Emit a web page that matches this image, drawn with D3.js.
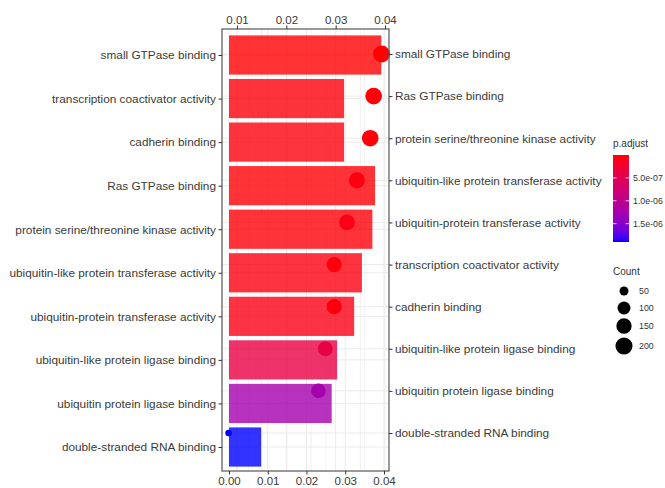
<!DOCTYPE html>
<html>
<head>
<meta charset="utf-8">
<script src="https://cdn.jsdelivr.net/npm/d3@7"></script>
<style>
  html, body { margin: 0; padding: 0; background: #fff; }
  svg { display: block; font-family: "Liberation Sans", Arial, sans-serif; }
  .axis text { fill: #3a3a3a; }
  .axis path { display: none; }
  .axis line { stroke: #333; }
</style>
</head>
<body>
<svg id="chart" width="665" height="488"></svg>
<script>
// GO molecular function terms, in the order the bars are stacked
const categories = [
  "small GTPase binding",
  "transcription coactivator activity",
  "cadherin binding",
  "Ras GTPase binding",
  "protein serine/threonine kinase activity",
  "ubiquitin-like protein transferase activity",
  "ubiquitin-protein transferase activity",
  "ubiquitin-like protein ligase binding",
  "ubiquitin protein ligase binding",
  "double-stranded RNA binding"
];
// gene ratio per term (bar length and dot position)
const geneRatio = [0.0393, 0.0297, 0.0297, 0.0377, 0.0370, 0.0343, 0.0323, 0.0279, 0.0265, 0.0083];
// number of genes per term (dot size)
const geneCount = [198, 150, 150, 190, 187, 173, 163, 141, 134, 42];
// adjusted p-value per term (colour)
const pAdjust = [1.0e-9, 3.5e-8, 4.1e-8, 2.0e-8, 2.6e-8, 4.8e-8, 7.9e-8, 3.9e-7, 1.25e-6, 1.9e-6];
// dot plot row order (by gene ratio)
const dotOrder = [
  "small GTPase binding",
  "Ras GTPase binding",
  "protein serine/threonine kinase activity",
  "ubiquitin-like protein transferase activity",
  "ubiquitin-protein transferase activity",
  "transcription coactivator activity",
  "cadherin binding",
  "ubiquitin-like protein ligase binding",
  "ubiquitin protein ligase binding",
  "double-stranded RNA binding"
];
const barTicks = [0, 0.01, 0.02, 0.03, 0.04];
const dotTicks = [0.01, 0.02, 0.03, 0.04];
const pTicks = [5e-7, 1e-6, 1.5e-6];
const pTickLabels = ["5.0e-07", "1.0e-06", "1.5e-06"];
const countBreaks = [50, 100, 150, 200];

const rows = categories.map((c, i) => ({
  term: c, ratio: geneRatio[i], count: geneCount[i], p: pAdjust[i]
}));

const svg = d3.select("#chart");
const panel = { left: 222, right: 389, top: 29, bottom: 471 };

// scales
const xBar = d3.scaleLinear().domain([0, 0.04]).range([229, 384]);
const xDot = d3.scaleLinear().domain([0.01, 0.04]).range([237, 385]);
const yBar = d3.scalePoint().domain(categories).range([55, 447]);
const yDot = d3.scalePoint().domain(dotOrder).range([54, 433]);
const barH = 0.9 * yBar.step();

const pExtent = d3.extent(pAdjust);
const color = d3.scaleLinear().domain(pExtent).range(["#ff0000", "#0000ff"])
  .interpolate(d3.interpolateLab);
const cExtent = d3.extent(geneCount);
const rMin = 3.3, rMax = 8.5;
const radius = c => rMin + (rMax - rMin) * Math.sqrt(Math.max(0, (c - cExtent[0]) / (cExtent[1] - cExtent[0])));

// grid
const grid = svg.append("g");
const minor = ticks => d3.range(ticks.length - 1).map(i => (ticks[i] + ticks[i + 1]) / 2);
minor(barTicks).concat([0.045]).forEach(v => {
  const x = xBar(v);
  if (x < panel.right) grid.append("line").attr("x1", x).attr("x2", x)
    .attr("y1", panel.top).attr("y2", panel.bottom).attr("stroke", "#f4f4f4");
});
barTicks.forEach(v => grid.append("line").attr("x1", xBar(v)).attr("x2", xBar(v))
  .attr("y1", panel.top).attr("y2", panel.bottom).attr("stroke", "#ebebeb"));
[0.005].concat(minor(dotTicks)).forEach(v => {
  const x = xDot(v);
  if (x > panel.left) grid.append("line").attr("x1", x).attr("x2", x)
    .attr("y1", panel.top).attr("y2", panel.bottom).attr("stroke", "#f0f0f0");
});
dotTicks.forEach(v => grid.append("line").attr("x1", xDot(v)).attr("x2", xDot(v))
  .attr("y1", panel.top).attr("y2", panel.bottom).attr("stroke", "#ebebeb"));
categories.forEach(c => grid.append("line").attr("x1", panel.left).attr("x2", panel.right)
  .attr("y1", yBar(c)).attr("y2", yBar(c)).attr("stroke", "#ebebeb"));
dotOrder.forEach(c => grid.append("line").attr("x1", panel.left).attr("x2", panel.right)
  .attr("y1", yDot(c)).attr("y2", yDot(c)).attr("stroke", "#ebebeb"));

// bars
svg.append("g").selectAll("rect").data(rows).join("rect")
  .attr("x", xBar(0))
  .attr("y", d => yBar(d.term) - barH / 2)
  .attr("width", d => xBar(d.ratio) - xBar(0))
  .attr("height", barH)
  .attr("fill", d => color(d.p))
  .attr("fill-opacity", 0.8);

// dots
svg.append("g").selectAll("circle").data(rows).join("circle")
  .attr("cx", d => xDot(d.ratio))
  .attr("cy", d => yDot(d.term))
  .attr("r", d => radius(d.count))
  .attr("fill", d => color(d.p));

// panel border
svg.append("rect").attr("x", panel.left).attr("y", panel.top)
  .attr("width", panel.right - panel.left).attr("height", panel.bottom - panel.top)
  .attr("fill", "none").attr("stroke", "#555").attr("stroke-width", 1.2);

// axes
const fs = "11.8px";
svg.append("g").attr("class", "axis").attr("transform", `translate(${panel.left},0)`)
  .call(d3.axisLeft(yBar).tickSize(3.5).tickPadding(2.5))
  .selectAll("text").style("font-size", fs);
svg.append("g").attr("class", "axis").attr("transform", `translate(${panel.right},0)`)
  .call(d3.axisRight(yDot).tickSize(3.5).tickPadding(2.5))
  .selectAll("text").style("font-size", fs);
svg.append("g").attr("class", "axis").attr("transform", `translate(0,${panel.bottom})`)
  .call(d3.axisBottom(xBar).tickValues(barTicks).tickFormat(d3.format(".2f")).tickSize(3.5).tickPadding(2.5))
  .selectAll("text").style("font-size", "11.5px");
svg.append("g").attr("class", "axis").attr("transform", `translate(0,${panel.top})`)
  .call(d3.axisTop(xDot).tickValues(dotTicks).tickFormat(d3.format(".2f")).tickSize(3.5).tickPadding(2))
  .selectAll("text").style("font-size", "11.5px");

// colour legend
const leg = svg.append("g");
const lgTop = 155, lgBot = 242, lgX = 613, lgW = 16;
leg.append("text").attr("x", lgX).attr("y", 147).text("p.adjust")
  .style("font-size", "10px").attr("fill", "#333");
const defs = svg.append("defs");
const grad = defs.append("linearGradient").attr("id", "pgrad")
  .attr("x1", 0).attr("y1", 0).attr("x2", 0).attr("y2", 1);
d3.range(0, 1.0001, 0.05).forEach(t => {
  grad.append("stop").attr("offset", t)
    .attr("stop-color", color(pExtent[0] + t * (pExtent[1] - pExtent[0])));
});
leg.append("rect").attr("x", lgX).attr("y", lgTop).attr("width", lgW)
  .attr("height", lgBot - lgTop).attr("fill", "url(#pgrad)");
const yLeg = d3.scaleLinear().domain(pExtent).range([lgTop, lgBot]);
pTicks.forEach((v, i) => {
  const y = yLeg(v);
  leg.append("line").attr("x1", lgX).attr("x2", lgX + 3.5).attr("y1", y).attr("y2", y)
    .attr("stroke", "#fff").attr("stroke-width", 0.8);
  leg.append("line").attr("x1", lgX + lgW - 3.5).attr("x2", lgX + lgW).attr("y1", y).attr("y2", y)
    .attr("stroke", "#fff").attr("stroke-width", 0.8);
  leg.append("text").attr("x", lgX + lgW + 4).attr("y", y).attr("dy", "0.35em")
    .text(pTickLabels[i]).style("font-size", "8.8px").attr("fill", "#333");
});

// size legend
const sl = svg.append("g");
sl.append("text").attr("x", lgX).attr("y", 275).text("Count")
  .style("font-size", "10px").attr("fill", "#333");
const sY = [291, 308, 326, 346];
countBreaks.forEach((c, i) => {
  sl.append("circle").attr("cx", 624).attr("cy", sY[i]).attr("r", radius(c)).attr("fill", "#000");
  sl.append("text").attr("x", 639).attr("y", sY[i]).attr("dy", "0.35em").text(c)
    .style("font-size", "8.8px").attr("fill", "#333");
});
</script>
</body>
</html>
